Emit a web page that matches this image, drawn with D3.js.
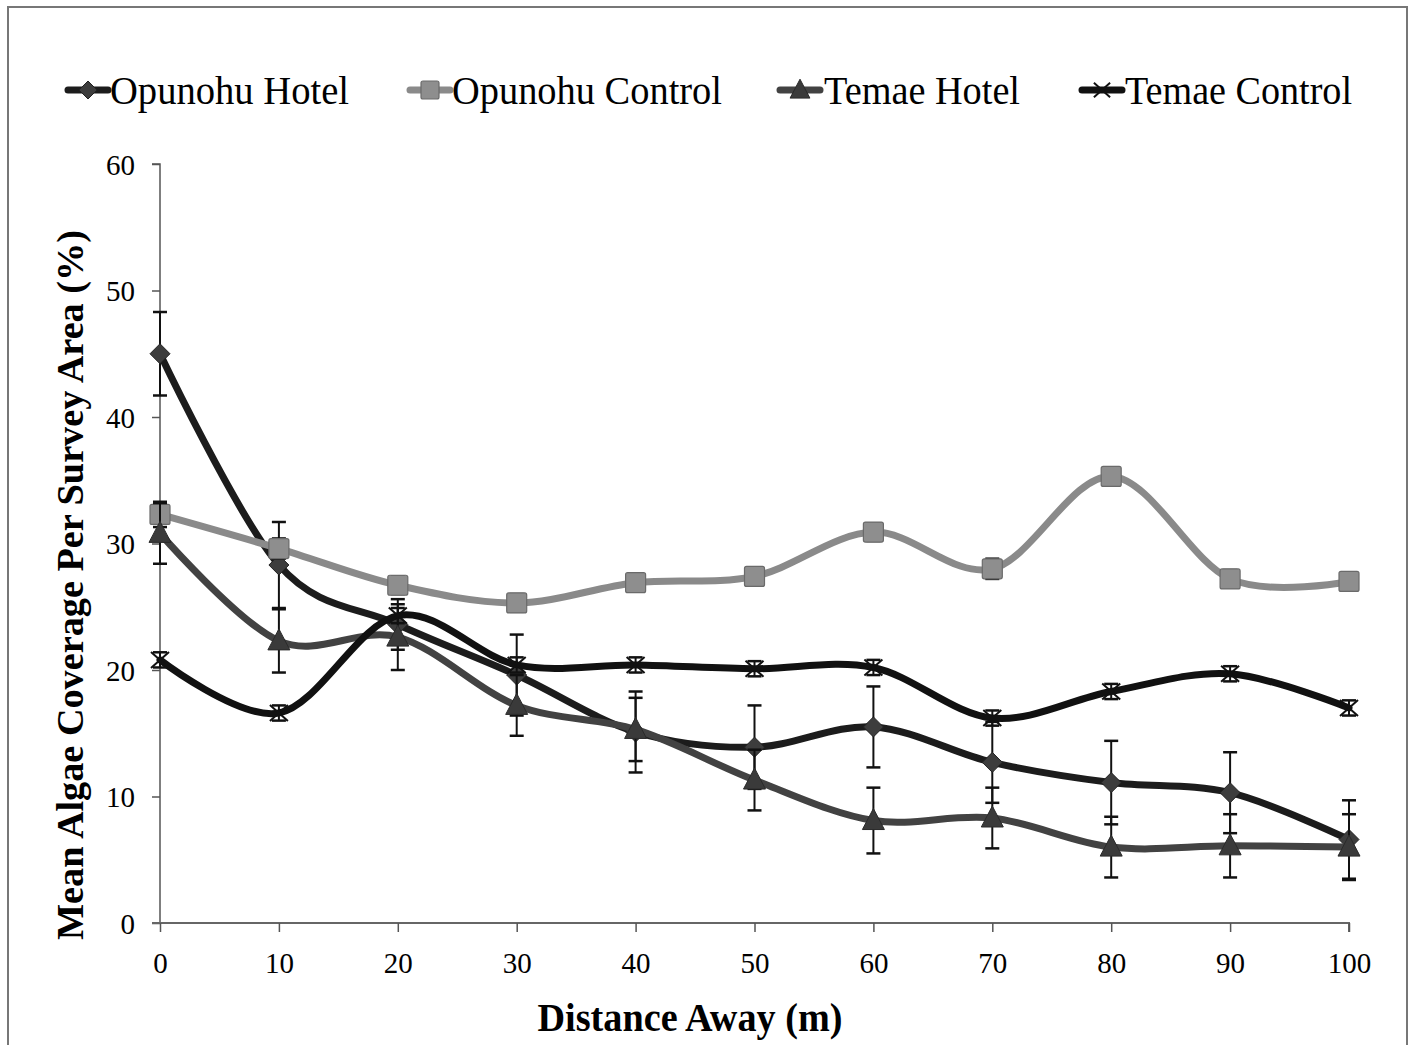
<!DOCTYPE html>
<html>
<head>
<meta charset="utf-8">
<script src="https://cdn.jsdelivr.net/npm/d3@7"></script>
<style>
  html, body { margin: 0; padding: 0; background: #fff; }
  svg { display: block; }
  text { font-family: "Liberation Serif", "Times New Roman", serif; fill: #000; }
</style>
</head>
<body>
<svg id="chart" width="1411" height="1045"></svg>
<script>
// ---- Data ----
const distances = [0, 10, 20, 30, 40, 50, 60, 70, 80, 90, 100];
const seriesNames = ["Opunohu Hotel", "Opunohu Control", "Temae Hotel", "Temae Control"];
const opunohuHotel      = [45.0, 28.3, 23.6, 19.6, 15.1, 13.9, 15.5, 12.7, 11.1, 10.3, 6.6];
const opunohuHotelErr   = [3.3, 3.4, 2.0, 3.2, 3.2, 3.3, 3.2, 3.2, 3.3, 3.2, 3.1];
const opunohuControl    = [32.3, 29.6, 26.7, 25.3, 26.9, 27.4, 30.9, 28.0, 35.3, 27.2, 27.0];
const opunohuControlErr = [1.0, 0.8, 0.7, 0.7, 0.7, 0.7, 0.7, 0.8, 0.7, 0.7, 0.7];
const temaeHotel        = [30.8, 22.3, 22.6, 17.2, 15.3, 11.3, 8.1, 8.3, 6.0, 6.1, 6.0];
const temaeHotelErr     = [2.4, 2.5, 2.6, 2.4, 2.5, 2.4, 2.6, 2.4, 2.4, 2.5, 2.6];
const temaeControl      = [20.8, 16.6, 24.3, 20.4, 20.4, 20.1, 20.2, 16.2, 18.3, 19.7, 17.0];
const temaeControlErr   = [0.6, 0.6, 0.6, 0.6, 0.6, 0.6, 0.6, 0.6, 0.6, 0.6, 0.6];
const yTicks = [0, 10, 20, 30, 40, 50, 60];
const xTicks = [0, 10, 20, 30, 40, 50, 60, 70, 80, 90, 100];
const xTitle = "Distance Away (m)";
const yTitle = "Mean Algae Coverage Per Survey Area (%)";

// ---- Styles ----
const styles = [
  { line: "#1c1c1c", fill: "#3d3d3d", marker: "diamond" },
  { line: "#8a8a8a", fill: "#8e8e8e", marker: "square" },
  { line: "#424242", fill: "#3a3a3a", marker: "triangle" },
  { line: "#111111", fill: "#111111", marker: "x" }
];
const seriesData = [
  [opunohuHotel, opunohuHotelErr],
  [opunohuControl, opunohuControlErr],
  [temaeHotel, temaeHotelErr],
  [temaeControl, temaeControlErr]
];

const svg = d3.select("#chart");

// frame
svg.append("rect").attr("x", 8).attr("y", 7).attr("width", 1399).attr("height", 1060)
  .attr("fill", "none").attr("stroke", "#777").attr("stroke-width", 2);

const x = d3.scaleLinear().domain([0, 100]).range([160, 1349]);
const y = d3.scaleLinear().domain([0, 60]).range([923, 164]);

// y axis
const yAxis = svg.append("g").attr("transform", `translate(${x(0)},0)`)
  .call(d3.axisLeft(y).tickValues(yTicks).tickSize(8).tickPadding(17).tickFormat(d3.format("d")));
yAxis.select(".domain").attr("stroke", "#555").attr("stroke-width", 1.5).attr("d", `M-8,${y(60)}H0V${y(0)}`);
yAxis.selectAll(".tick line").attr("stroke", "#555").attr("stroke-width", 1.5);
yAxis.selectAll(".tick text").style("font-size", "29px").style("font-family", "Liberation Serif, serif").attr("fill", "#000").attr("dy", "0.36em");

// x axis
const xAxis = svg.append("g").attr("transform", `translate(0,${y(0)})`)
  .call(d3.axisBottom(x).tickValues(xTicks).tickSize(9).tickPadding(20).tickFormat(d3.format("d")));
xAxis.select(".domain").attr("stroke", "#666").attr("stroke-width", 2).attr("d", `M${x(0) - 8},0H${x(100)}V9`);
xAxis.selectAll(".tick line").attr("stroke", "#555").attr("stroke-width", 1.5);
xAxis.selectAll(".tick text").style("font-size", "29px").style("font-family", "Liberation Serif, serif").attr("fill", "#000");

// titles
svg.append("text").attr("x", 690).attr("y", 1031).attr("text-anchor", "middle")
  .attr("textLength", 305).attr("lengthAdjust", "spacingAndGlyphs")
  .style("font-size", "39px").style("font-weight", "bold").text(xTitle);
svg.append("text").attr("transform", "translate(83,585) rotate(-90)").attr("text-anchor", "middle")
  .attr("textLength", 710).attr("lengthAdjust", "spacingAndGlyphs")
  .style("font-size", "38px").style("font-weight", "bold").text(yTitle);

// markers
function drawMarker(g, type, cx, cy, st, scale = 1) {
  const s = scale;
  if (type === "diamond") {
    g.append("path").attr("d", `M${cx},${cy - 10 * s}L${cx + 10 * s},${cy}L${cx},${cy + 10 * s}L${cx - 10 * s},${cy}Z`)
      .attr("fill", st.fill).attr("stroke", "#222").attr("stroke-width", 1);
  } else if (type === "square") {
    g.append("rect").attr("x", cx - 10 * s).attr("y", cy - 10 * s).attr("width", 20 * s).attr("height", 20 * s)
      .attr("rx", 2).attr("fill", st.fill).attr("stroke", "#6a6a6a").attr("stroke-width", 1.2);
  } else if (type === "triangle") {
    g.append("path").attr("d", `M${cx},${cy - 12 * s}L${cx + 11 * s},${cy + 9 * s}L${cx - 11 * s},${cy + 9 * s}Z`)
      .attr("fill", st.fill).attr("stroke", "#2a2a2a").attr("stroke-width", 1);
  } else if (type === "x") {
    g.append("path").attr("d", `M${cx - 9 * s},${cy - 8 * s}L${cx + 9 * s},${cy + 8 * s}M${cx + 9 * s},${cy - 8 * s}L${cx - 9 * s},${cy + 8 * s}`)
      .attr("stroke", "#111").attr("stroke-width", 2).attr("fill", "none");
  }
}

const lineGen = d3.line().x(d => x(d[0])).y(d => y(d[1])).curve(d3.curveCatmullRom.alpha(0));

seriesData.forEach(([vals, errs], i) => {
  const st = styles[i];
  const g = svg.append("g");
  const pts = distances.map((d, j) => [d, vals[j]]);
  g.append("path").datum(pts).attr("d", lineGen)
    .attr("fill", "none").attr("stroke", st.line).attr("stroke-width", 7)
    .attr("stroke-linejoin", "round").attr("stroke-linecap", "round");
  // error bars
  distances.forEach((d, j) => {
    const cx = x(d), y1 = y(vals[j] + errs[j]), y2 = y(vals[j] - errs[j]);
    g.append("line").attr("x1", cx).attr("x2", cx).attr("y1", y1).attr("y2", y2).attr("stroke", "#111").attr("stroke-width", 2);
    [y1, y2].forEach(yy => g.append("line").attr("x1", cx - 7).attr("x2", cx + 7).attr("y1", yy).attr("y2", yy).attr("stroke", "#111").attr("stroke-width", 2.5));
  });
  distances.forEach((d, j) => drawMarker(g, st.marker, x(d), y(vals[j]), st));
});

// legend
const legendItems = [
  { sx: 68, tx: 110, w: 239 },
  { sx: 410, tx: 452, w: 270 },
  { sx: 780, tx: 824, w: 196 },
  { sx: 1082, tx: 1125, w: 227 }
];
const ly = 90;
seriesNames.forEach((name, i) => {
  const st = styles[i];
  const g = svg.append("g");
  const li = legendItems[i];
  g.append("line").attr("x1", li.sx).attr("x2", li.sx + 40).attr("y1", ly).attr("y2", ly)
    .attr("stroke", st.line).attr("stroke-width", 7).attr("stroke-linecap", "round");
  drawMarker(g, st.marker, li.sx + 20, ly, st, 0.9);
  g.append("text").attr("x", li.tx).attr("y", ly + 14)
    .attr("textLength", li.w).attr("lengthAdjust", "spacingAndGlyphs")
    .style("font-size", "41px").text(name);
});
</script>
</body>
</html>
